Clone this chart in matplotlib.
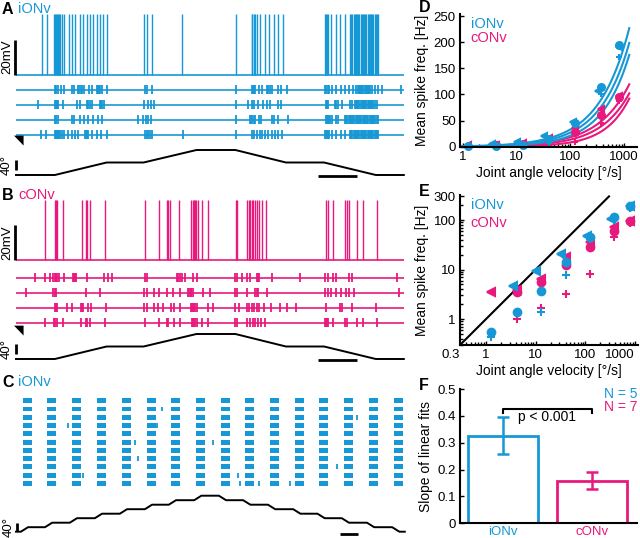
import matplotlib
matplotlib.use('Agg')
import matplotlib.pyplot as plt
import numpy as np

plt.rcParams['font.family'] = ['Liberation Sans', 'DejaVu Sans']
plt.rcParams['font.size'] = 9.5

blue = '#1798d6'
pink = '#e8197d'

# ---------------- data ----------------
# A: iONv intracellular recording (spike times, s) and 4 raster trials
iONv_trace_spikes = [0.66, 0.79, 0.98, 1.00, 1.03, 1.05, 1.08, 1.11, 1.13, 1.17, 1.24, 1.35, 1.43,
                     1.52, 1.65, 1.73, 1.83, 1.89, 1.97, 2.07, 2.16, 2.23, 2.35, 3.29, 3.36, 3.49,
                     4.28, 5.66, 6.06, 6.08, 6.12, 6.15, 6.19, 6.27, 6.40, 6.51, 6.62, 6.74, 6.86,
                     7.94, 7.97, 8.00, 8.03, 8.11, 8.23, 8.33, 8.46, 8.59, 8.62, 8.65, 8.68, 8.71,
                     8.74, 8.77, 8.80, 8.83, 8.86, 8.89, 8.92, 8.95, 8.98, 9.01, 9.04, 9.07, 9.10,
                     9.13, 9.16, 9.19, 9.22, 9.25, 9.28, 9.31]
iONv_raster = [
    [1.00, 1.03, 1.07, 1.16, 1.24, 1.43, 1.50, 1.60, 1.63, 1.66, 1.69, 1.76, 1.88, 1.96, 2.07,
     2.10, 2.13, 2.16, 2.22, 2.33, 3.32, 3.36, 3.49, 5.65, 6.06, 6.09, 6.12, 6.14, 6.25, 6.32,
     6.44, 6.48, 6.53, 6.57, 6.74, 6.81, 6.96, 7.94, 7.97, 8.01, 8.05, 8.12, 8.22, 8.36, 8.46,
     8.56, 8.67, 8.75, 8.78, 8.81, 8.84, 8.87, 8.90, 8.93, 8.96, 8.99, 9.02, 9.05, 9.08, 9.11,
     9.14, 9.23, 9.31, 9.40, 9.91],
    [0.57, 1.00, 1.03, 1.06, 1.09, 1.22, 1.56, 1.65, 1.82, 1.86, 1.90, 1.96, 2.16, 2.19, 2.22,
     2.25, 3.30, 3.39, 3.47, 3.56, 5.65, 5.97, 6.06, 6.13, 6.23, 6.36, 6.44, 6.53, 6.74, 6.81,
     7.96, 7.99, 8.01, 8.20, 8.23, 8.27, 8.37, 8.59, 8.63, 8.71, 8.74, 8.77, 8.80, 8.83, 8.86,
     8.89, 8.92, 8.95, 8.98, 9.01, 9.04, 9.07, 9.10, 9.13, 9.16, 9.19, 9.22, 9.27],
    [1.00, 1.03, 1.07, 1.43, 1.50, 1.65, 1.76, 1.86, 1.99, 2.10, 2.22, 3.14, 3.27, 3.33, 3.40,
     3.47, 5.65, 6.02, 6.05, 6.08, 6.11, 6.14, 6.25, 6.30, 6.57, 6.64, 6.73, 6.98, 7.96, 7.99,
     8.02, 8.05, 8.08, 8.12, 8.22, 8.29, 8.46, 8.49, 8.52, 8.55, 8.58, 8.61, 8.64, 8.67, 8.70,
     8.73, 8.76, 8.79, 8.82, 8.85, 8.88, 8.91, 8.94, 8.97, 9.00, 9.03, 9.06, 9.09, 9.12, 9.15,
     9.18, 9.21, 9.24, 9.27, 9.31],
    [0.64, 0.76, 0.99, 1.02, 1.05, 1.08, 1.11, 1.13, 1.17, 1.24, 1.33, 1.43, 1.52, 1.60, 1.77,
     1.80, 1.83, 1.86, 1.95, 2.07, 2.19, 2.33, 3.32, 3.36, 3.40, 3.45, 3.49, 4.30, 5.65, 6.06,
     6.13, 6.20, 6.27, 6.33, 6.40, 6.49, 6.57, 6.66, 6.74, 6.85, 7.94, 7.97, 8.00, 8.03, 8.05,
     8.12, 8.22, 8.36, 8.46, 8.59, 8.62, 8.65, 8.68, 8.71, 8.74, 8.77, 8.80, 8.83, 8.86, 8.89,
     8.92, 8.95, 8.98, 9.01, 9.04, 9.07, 9.10, 9.13, 9.16, 9.19, 9.22, 9.25, 9.28, 9.31],
]

# B: cONv
cONv_trace_spikes = [0.75, 1.00, 1.03, 1.06, 1.20, 1.69, 1.80, 1.83, 1.90, 2.29, 3.32, 3.68, 3.87,
                     3.92, 3.96, 4.20, 4.50, 4.54, 4.58, 4.61, 4.64, 4.68, 4.77, 4.94, 5.65, 5.67,
                     5.95, 5.98, 6.02, 6.06, 6.10, 6.14, 6.19, 6.26, 6.32, 6.43, 7.97, 8.03, 8.14,
                     8.46, 8.52, 8.57, 8.77, 8.93, 9.27]
cONv_raster = [
    [0.49, 0.75, 0.87, 0.96, 0.99, 1.02, 1.06, 1.11, 1.23, 1.46, 1.49, 1.52, 1.54, 1.83, 2.25,
     2.37, 2.46, 3.32, 3.36, 4.13, 4.17, 4.22, 4.28, 4.34, 4.56, 4.65, 5.63, 5.69, 5.80, 5.95,
     6.02, 6.20, 6.23, 6.26, 6.57, 7.30, 7.94, 8.03, 8.16, 8.23, 8.57, 8.65, 9.79],
    [0.27, 0.96, 0.99, 1.03, 1.80, 2.16, 3.29, 3.36, 3.55, 3.68, 3.87, 4.03, 4.22, 4.43, 4.46,
     4.49, 4.51, 4.56, 4.82, 4.99, 5.63, 5.67, 5.93, 6.14, 6.19, 6.23, 6.44, 7.94, 8.03, 8.11,
     8.23, 8.35, 8.48, 8.57, 8.69, 9.85],
    [1.00, 1.03, 1.05, 1.30, 1.43, 1.67, 1.70, 1.73, 1.86, 1.94, 2.31, 3.29, 3.36, 3.55, 3.66,
     3.79, 3.98, 4.05, 4.22, 4.49, 4.52, 4.55, 4.58, 4.61, 4.65, 4.94, 5.06, 5.63, 5.74, 5.93,
     6.00, 6.06, 6.12, 6.19, 6.26, 6.38, 6.55, 6.79, 6.97, 7.20, 7.97, 8.33, 8.37, 8.63, 9.25],
    [0.75, 0.98, 1.01, 1.05, 1.20, 1.66, 1.80, 1.83, 1.90, 2.29, 3.32, 3.68, 3.87, 3.92, 4.05,
     4.22, 4.52, 4.55, 4.58, 4.61, 4.65, 4.77, 4.94, 5.63, 5.67, 5.95, 6.02, 6.09, 6.15, 6.22,
     6.29, 6.40, 7.94, 7.97, 8.00, 8.03, 8.14, 8.46, 8.52, 8.76, 8.93, 9.27],
]

# joint angle stimulus for A and B (s, deg)
ramp_t = [0, 1.0, 2.33, 3.28, 4.64, 5.64, 6.94, 7.92, 9.25, 9.97]
ramp_deg = [0, 0, 50, 50, 100, 100, 50, 50, 0, 0]

# C: staircase stimulus, 11 trials of iONv
stair_t = [0, 0.27, 0.67, 1.61, 2.01, 2.99, 3.39, 4.38, 4.78, 5.77, 6.17, 7.16, 7.56, 8.49, 8.89,
           9.9, 10.3, 11.27, 11.67, 12.62, 13.02, 14.0, 14.4, 15.4, 15.8, 16.75, 17.15, 18.1,
           18.5, 19.5, 19.9, 20.9, 21.3, 21.6]
stair_deg = [0, 0, 22.5, 22.5, 45, 45, 67.5, 67.5, 90, 90, 112.5, 112.5, 135, 135, 157.5, 157.5,
             180, 180, 157.5, 157.5, 135, 135, 112.5, 112.5, 90, 90, 67.5, 67.5, 45, 45, 22.5,
             22.5, 0, 0]
burst_start = [0.37, 1.71, 3.09, 4.48, 5.87, 7.26, 8.59, 10.0, 11.37, 12.72, 14.1, 15.5, 16.85,
               18.2, 19.6, 21.0]
burst_len = 0.5
n_trials_C = 11
extra_rows = [2, 3, 4, 4, 6, 6, 8, 9, 10, 10, 11, 11, 11]
extra_t = [8.13, 18.93, 2.91, 7.81, 6.61, 10.96, 6.80, 17.85, 3.74, 12.35, 12.44, 13.52, 15.22]

# D/E: mean spike frequency vs velocity for example neurons
markers = ['<', 'o', '+']
iONv_vel = [[3.5, 10, 33, 110, 330, 800],
            [1.25, 4.2, 13, 40, 125, 380, 800],
            [1.25, 13, 40, 125, 380, 800]]
iONv_freq = [[4.6, 9.5, 20.5, 48, 107, 190],
             [0.55, 1.4, 3.7, 14, 45, 115, 195],
             [0.43, 1.37, 7.7, 42, 100, 172]]
cONv_vel = [[1.25, 4.2, 13, 40, 125, 380, 800],
            [4.2, 13, 40, 125, 380, 800],
            [4.2, 13, 40, 125, 380, 800]]
cONv_freq = [[3.5, 3.9, 6.4, 17.6, 36, 72, 97],
             [3.5, 5.5, 12.5, 28, 60, 95],
             [1.0, 1.7, 3.2, 8.1, 45, 88]]
# fitted curves (f = c * v^p)
iONv_fit_c = [0.97, 0.71, 0.44]
iONv_fit_p = [0.765, 0.79, 0.84]
cONv_fit_c = [0.58, 0.34, 0.098]
cONv_fit_p = [0.747, 0.80, 0.96]

# F: slopes
groups = ['iONv', 'cONv']
slope_mean = [0.326, 0.159]
slope_err = [0.068, 0.032]
n_cells = [5, 7]

# ---------------- figure ----------------
W, H = 640, 538
fig = plt.figure(figsize=(6.4, 5.38), dpi=100)


def px_axes(l, t, r, b):
    return fig.add_axes([l / W, 1 - b / H, (r - l) / W, (b - t) / H])


def label(x, y, s, color='k', bold=False, size=10.5):
    fig.text(x / W, 1 - y / H, s, color=color, fontsize=size,
             fontweight='bold' if bold else 'normal', va='top', ha='left')


tlim_AB = (-0.154, 10.129)
tlim_C = (-0.333, 21.89)


def trace_panel(top, spikes, raster, color, base_y, rows_top, angle_top, arrow_y):
    # voltage trace
    av = px_axes(10, top, 410, base_y + 6)
    av.set_xlim(*tlim_AB)
    span = (base_y + 6 - top) / 1.75
    av.set_ylim(-65 - 6 / 1.75, -65 - 6 / 1.75 + span)
    av.hlines(-65, 0, 9.97, color=color, lw=1.2)
    av.vlines(spikes, -65, -30.5, color=color, lw=1.0)
    av.plot([-0.03, -0.03], [-65, -45], color='k', lw=2, solid_capstyle='butt')
    av.text(-0.08, -55, '20mV', rotation=90, ha='right', va='center', fontsize=9.5)
    av.axis('off')
    # raster
    ar = px_axes(10, rows_top, 410, rows_top + 60)
    ar.set_xlim(*tlim_AB)
    ar.set_ylim(4.5, 0.5)
    ar.hlines([1, 2, 3, 4], 0, 9.97, color=color, lw=1.2)
    ar.eventplot(raster, lineoffsets=[1, 2, 3, 4], linelengths=0.58, colors=color,
                 linewidths=1.3)
    ar.axis('off')
    # angle
    aa = px_axes(10, angle_top, 410, angle_top + 38)
    aa.set_xlim(*tlim_AB)
    aa.set_ylim(-(angle_top + 38 - (angle_top + 31)) / 0.25, 31 / 0.25)
    aa.plot(ramp_t, ramp_deg, color='k', lw=1.4)
    aa.plot([-0.01, -0.01], [20, 60], color='k', lw=2, solid_capstyle='butt')
    aa.text(-0.08, 40, '40°', rotation=90, ha='right', va='center', fontsize=9.5)
    aa.plot([7.76, 8.76], [-4, -4], color='k', lw=2, solid_capstyle='butt')
    aa.axis('off')
    fig.text(19 / W, 1 - arrow_y / H, '\u25E5', fontsize=9, ha='center', va='center',
             rotation=0, family='DejaVu Sans')


# panel A
trace_panel(8, iONv_trace_spikes, iONv_raster, blue, 74.5, 82, 144, 140)
label(2, 2, 'A', bold=True, size=11.5)
label(18, 2, 'iONv', color=blue)

# panel B
trace_panel(195, cONv_trace_spikes, cONv_raster, pink, 260, 270, 328, 330)
label(2, 188, 'B', bold=True, size=11.5)
label(18, 188, 'cONv', color=pink)

# panel C
ac = px_axes(10, 396.6, 410, 487.5)
ac.set_xlim(*tlim_C)
ac.set_ylim(n_trials_C + 0.5, 0.5)
for r in range(1, n_trials_C + 1):
    ac.broken_barh([(s, burst_len) for s in burst_start], (r - 0.3, 0.6), facecolors=blue)
ac.vlines(extra_t, np.array(extra_rows) - 0.3, np.array(extra_rows) + 0.3, color=blue, lw=1.3)
ac.axis('off')
acs = px_axes(10, 490, 410, 540)
acs.set_xlim(*tlim_C)
acs.set_ylim(-41.5, 208.5)
acs.plot(stair_t, stair_deg, color='k', lw=1.4)
acs.plot([0.07, 0.07], [5, 45], color='k', lw=2, solid_capstyle='butt')
acs.text(-0.1, 25, '40°', rotation=90, ha='right', va='center', fontsize=9.5)
acs.plot([18.0, 19.0], [-11.5, -11.5], color='k', lw=2, solid_capstyle='butt')
acs.axis('off')
label(2, 375, 'C', bold=True, size=11.5)
label(18, 375, 'iONv', color=blue)


def style(ax):
    for s in ['top', 'right']:
        ax.spines[s].set_visible(False)
    for s in ['left', 'bottom']:
        ax.spines[s].set_linewidth(1.5)
    ax.tick_params(direction='in', length=3, width=1, labelsize=9.5, pad=3)
    ax.tick_params(which='minor', direction='in', length=2, width=1)


# panel D
ad = px_axes(460, 14, 637, 146.7)
vfit = np.geomspace(1, 1250, 200)
for c, p in zip(cONv_fit_c, cONv_fit_p):
    ad.plot(vfit, c * vfit ** p, color=pink, lw=1.5)
for c, p in zip(iONv_fit_c, iONv_fit_p):
    ad.plot(vfit, c * vfit ** p, color=blue, lw=1.5)
for m, v, f in zip(markers, cONv_vel, cONv_freq):
    ad.plot(v, f, ls='none', marker=m, color=pink, ms=5, mew=1.5, clip_on=False)
for m, v, f in zip(markers, iONv_vel, iONv_freq):
    ad.plot(v, f, ls='none', marker=m, color=blue, ms=5, mew=1.5, clip_on=False)
ad.set_xscale('log')
ad.set_xlim(0.89, 1740)
ad.set_ylim(0, 254)
ad.set_xticks([1, 10, 100, 1000])
ad.set_xticklabels(['1', '10', '100', '1000'])
ad.set_yticks([0, 50, 100, 150, 200, 250])
ad.set_xlabel('Joint angle velocity [°/s]', fontsize=10, labelpad=2)
ad.set_ylabel('Mean spike freq. [Hz]', fontsize=10, labelpad=3)
ad.text(0.06, 0.98, 'iONv', color=blue, transform=ad.transAxes, fontsize=10.5, va='top')
ad.text(0.06, 0.87, 'cONv', color=pink, transform=ad.transAxes, fontsize=10.5, va='top')
style(ad)
label(419, 0, 'D', bold=True, size=11.5)

# panel E
ae = px_axes(460, 195, 638, 345)
ae.plot([0.3, 300], [0.3, 300], color='k', lw=1.5)
for m, v, f in zip(markers, cONv_vel, cONv_freq):
    ae.plot(v, f, ls='none', marker=m, color=pink, ms=5.5, mew=1.5, clip_on=False)
for m, v, f in zip(markers, iONv_vel, iONv_freq):
    ae.plot(v, f, ls='none', marker=m, color=blue, ms=5.5, mew=1.5, clip_on=False)
ae.set_xscale('log')
ae.set_yscale('log')
ae.set_xlim(0.3, 1150)
ae.set_ylim(0.3, 320)
ae.set_xticks([0.3, 1, 10, 100, 1000])
ae.set_xticklabels(['0.3', '1', '10', '100', '1000'])
xl = ae.get_xticklabels()
xl[0].set_ha('right')
xl[-1].set_ha('right')
ae.set_yticks([1, 10, 100, 300])
ae.set_yticklabels(['1', '10', '100', '300'])
ae.set_xlabel('Joint angle velocity [°/s]', fontsize=10, labelpad=2)
ae.set_ylabel('Mean spike freq. [Hz]', fontsize=10, labelpad=3)
ae.text(0.06, 0.98, 'iONv', color=blue, transform=ae.transAxes, fontsize=10.5, va='top')
ae.text(0.06, 0.86, 'cONv', color=pink, transform=ae.transAxes, fontsize=10.5, va='top')
style(ae)
label(419, 184, 'E', bold=True, size=11.5)

# panel F
af = px_axes(460, 389, 637, 523.3)
xpos = [1, 2]
colors = [blue, pink]
af.bar(xpos, slope_mean, width=0.79, color='white', edgecolor=colors, linewidth=2)
for x, m, e, c in zip(xpos, slope_mean, slope_err, colors):
    af.errorbar(x, m, yerr=e, color=c, capsize=4.5, elinewidth=1.8, capthick=1.8)
af.plot([1.0, 1.0, 2.0, 2.0], [0.41, 0.425, 0.425, 0.41], color='k', lw=1.5)
af.text(1.49, 0.395, 'p < 0.001', ha='center', va='center', fontsize=10)
af.text(2.51, 0.483, 'N = %d' % n_cells[0], color=blue, ha='right', va='center', fontsize=10)
af.text(2.51, 0.432, 'N = %d' % n_cells[1], color=pink, ha='right', va='center', fontsize=10)
af.set_xlim(0.51, 2.51)
af.set_ylim(0, 0.5)
af.set_xticks(xpos)
af.set_xticklabels(groups)
for tl, c in zip(af.get_xticklabels(), colors):
    tl.set_color(c)
af.set_yticks([0, 0.1, 0.2, 0.3, 0.4, 0.5])
af.set_yticklabels(['0', '0.1', '0.2', '0.3', '0.4', '0.5'])
af.set_ylabel('Slope of linear fits', fontsize=10, labelpad=3)
style(af)
af.tick_params(axis='x', length=0, pad=2)
label(419, 378, 'F', bold=True, size=11.5)

fig.savefig('out.png', dpi=100)
